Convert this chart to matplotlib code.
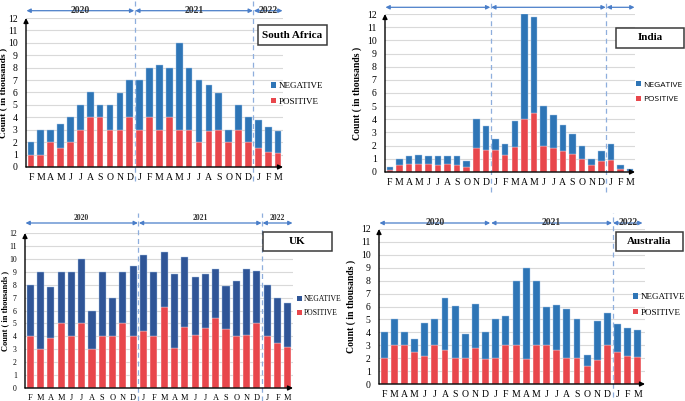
import matplotlib
matplotlib.use("Agg")
import matplotlib.pyplot as plt
from matplotlib.patches import Patch, Rectangle

plt.rcParams['font.family'] = ['Liberation Serif', 'DejaVu Serif']

months = ['F', 'M', 'A', 'M', 'J', 'J', 'A', 'S', 'O', 'N', 'D',
          'J', 'F', 'M', 'A', 'M', 'J', 'J', 'A', 'S', 'O', 'N', 'D',
          'J', 'F', 'M']

# South Africa (thousands)
sa_total = [2, 3, 3, 3.5, 4, 5, 6, 5, 5, 6, 7,
            7, 8, 8.2, 8, 10, 8, 7, 6.6, 6, 3, 5, 4,
            3.8, 3.2, 2.9]
sa_pos = [1, 1, 2, 1.5, 2, 3, 4, 4, 3, 3, 4,
          3, 4, 3, 4, 3, 3, 2, 2.9, 3, 2, 3, 2,
          1.5, 1.2, 1.1]

# India
in_total = [0.4, 1.0, 1.2, 1.3, 1.2, 1.2, 1.2, 1.2, 0.8, 4.0, 3.5,
            2.5, 2.1, 3.9, 12.0, 11.8, 5.0, 4.3, 3.6, 2.9, 2.0, 1.0, 1.6,
            2.1, 0.5, 0.2]
in_pos = [0.15, 0.5, 0.6, 0.6, 0.6, 0.5, 0.6, 0.5, 0.35, 1.8, 1.7,
          1.7, 1.3, 1.9, 4.0, 4.5, 2.0, 1.8, 1.6, 1.4, 1.0, 0.5, 0.8,
          0.9, 0.2, 0.1]

# UK
uk_total = [8, 9, 7.85, 9, 9, 10, 6, 9, 7, 9, 9.45,
            10.3, 9, 10.55, 8.8, 10.15, 8.6, 8.8, 9.25, 7.9, 8.25, 9.25, 9.05,
            8, 7, 6.6]
uk_pos = [4, 3, 3.85, 5, 4, 5, 3, 4, 4, 5, 4,
          4.4, 4, 6.25, 3.1, 4.75, 4.1, 4.65, 5.4, 4.6, 4.0, 4.1, 5.0,
          4.0, 3.5, 3.2]

# Australia
au_total = [4, 5, 4, 3.45, 4.75, 5, 6.65, 6, 3.9, 6.2, 4,
            5, 5.3, 8, 8.95, 8, 6, 6.1, 5.8, 5, 2.25, 4.9, 5.5,
            4.65, 4.3, 4.2]
au_pos = [2, 3, 3, 2.45, 2.2, 3, 2.65, 2, 2, 2.75, 1.9,
          2, 3, 3, 1.95, 3, 3, 2.65, 2, 2, 1.4, 1.85, 3,
          2.5, 2.2, 2.1]

years = ['2020', '2021', '2022']
year_spans = [(-0.5, 10.5), (10.5, 22.5), (22.5, 25.5)]

W, H = 685, 401
fig = plt.figure(figsize=(W / 100, H / 100), dpi=100)

ARROW_BLUE = '#4A7EC9'
DASH_BLUE = '#8EAEDD'


def make_panel(L, R, T, B, total, pos, name, box, blue, red,
               arrow_y, year_labels, label_dy, dash_x, dash_rng,
               leg_xy, leg_font, tick_fs, xlab_fs, ylab_x, xmax=25.5,
               legend_family=None, year_bold=True, year_fs=7, ylab_fs=7):
    ax = fig.add_axes([L / W, 1 - B / H, (R - L) / W, (B - T) / H])
    x = list(range(len(months)))
    neg = [t - p for t, p in zip(total, pos)]
    ax.bar(x, pos, width=0.68, color=red, edgecolor='white', linewidth=0.3, zorder=3)
    ax.bar(x, neg, bottom=pos, width=0.68, color=blue, edgecolor='#A9C7E8',
           linewidth=0.3, zorder=3)
    ax.set_xlim(-0.5, xmax)
    ax.set_ylim(0, 12)
    ax.set_yticks(range(0, 13))
    ax.set_xticks(x)
    ax.set_xticklabels(months, fontsize=xlab_fs)
    ax.tick_params(axis='y', labelsize=tick_fs, length=0, pad=6)
    ax.tick_params(axis='x', length=0, pad=4)
    ax.yaxis.grid(True, color='#D9D9D9', linewidth=0.8, zorder=0)
    ax.set_axisbelow(True)
    for s in ax.spines.values():
        s.set_visible(False)
    # axis arrows
    ax.annotate('', xy=(0, 1.0), xytext=(0, 0), xycoords='axes fraction',
                arrowprops=dict(arrowstyle='-|>', color='black', lw=1.0,
                                mutation_scale=7, shrinkA=0, shrinkB=0))
    ax.annotate('', xy=(1.0, 0), xytext=(0, 0), xycoords='axes fraction',
                arrowprops=dict(arrowstyle='-|>', color='black', lw=1.0,
                                mutation_scale=7, shrinkA=0, shrinkB=0))
    ax.set_ylabel('Count ( in thousands )', fontsize=ylab_fs, fontweight='bold')
    ax.yaxis.set_label_coords(ylab_x, 0.5)
    # year arrows
    ay = (B - arrow_y) / (B - T)
    for (x0, x1), yl in zip(year_spans, years):
        ax.annotate('', xy=(x1 - 0.05, ay), xytext=(x0 + 0.05, ay),
                    xycoords=('data', 'axes fraction'),
                    arrowprops=dict(arrowstyle='<|-|>', color=ARROW_BLUE, lw=0.9,
                                    mutation_scale=6, shrinkA=0, shrinkB=0),
                    annotation_clip=False)
        if year_labels:
            ax.text((x0 + x1) / 2, ay + label_dy / (B - T), yl,
                    transform=ax.get_xaxis_transform(), ha='center', va='center',
                    fontsize=year_fs, fontweight='bold' if year_bold else 'normal',
                    color='#333333')
    # dashed separators
    for dx in dash_x:
        y0 = (B - dash_rng[1]) / (B - T)
        y1 = (B - dash_rng[0]) / (B - T)
        ax.plot([dx, dx], [y0, y1], transform=ax.get_xaxis_transform(),
                ls=(0, (4, 3)), color=DASH_BLUE, lw=0.9, clip_on=False, zorder=1)
    # title box
    bx0, by0, bx1, by1 = box
    fig.add_artist(Rectangle((bx0 / W, 1 - by1 / H), (bx1 - bx0) / W, (by1 - by0) / H,
                             transform=fig.transFigure, facecolor='white',
                             edgecolor='#3A3A3A', lw=1.1))
    fig.text((bx0 + bx1) / 2 / W, 1 - (by0 + by1) / 2 / H, name, ha='center',
             va='center', fontsize=8, fontweight='bold')
    # legend
    handles = [Patch(facecolor=blue, label='NEGATIVE'),
               Patch(facecolor=red, label='POSITIVE')]
    lx, ly = leg_xy
    prop = {'size': leg_font}
    if legend_family:
        prop['family'] = legend_family
    ax.legend(handles=handles, loc='upper left',
              bbox_to_anchor=((lx - L) / (R - L), (B - ly) / (B - T)),
              frameon=False, prop=prop, handlelength=0.6, handleheight=0.6,
              handletextpad=0.25, labelspacing=0.85, borderaxespad=0, borderpad=0)
    return ax


# South Africa
make_panel(26, 283, 18, 167, sa_total, sa_pos, 'South Africa', (258, 25, 327, 45),
           '#2E75B6', '#E8474C', 10.7, True, 0, [10.5, 22.5], (0, 181),
           (271, 82), 6.5, 7, 7, -0.074, ylab_fs=6.8)
# India
make_panel(385, 635, 14, 172, in_total, in_pos, 'India', (616, 28, 684, 48),
           '#2E75B6', '#E8474C', 7.3, False, 0, [10.5, 22.5], (2, 192),
           (636, 81), 6, 7, 7, -0.09, legend_family=['Open Sans', 'DejaVu Sans'])
# UK
make_panel(25, 293, 233, 388, uk_total, uk_pos, 'UK', (263, 232, 332, 251),
           '#2F5597', '#E8474C', 223, True, 5, [10.5, 22.5], (213, 401),
           (297, 295), 5.5, 5.5, 6, -0.06, year_bold=True, year_fs=5.5, ylab_fs=6)
# Australia
make_panel(379, 645, 229, 384, au_total, au_pos, 'Australia', (616, 232, 683, 251),
           '#2E75B6', '#E8474C', 223, True, 0, [22.5], (213, 397),
           (633, 293), 6.5, 7, 7, -0.085, xmax=25.7)

fig.savefig('out.png', dpi=100)
